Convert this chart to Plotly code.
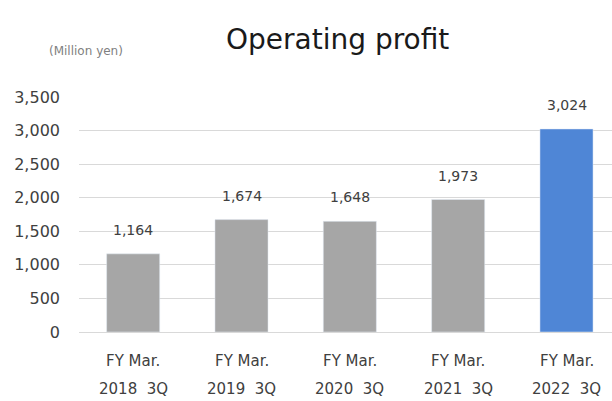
import plotly.graph_objects as go

line1 = ["FY Mar."] * 5
line2 = ["2018  3Q", "2019  3Q", "2020  3Q", "2021  3Q", "2022  3Q"]
values = [1164, 1674, 1648, 1973, 3024]
colors = ["#a6a6a6", "#a6a6a6", "#a6a6a6", "#a6a6a6", "#4f86d6"]
ytick_vals = [0, 500, 1000, 1500, 2000, 2500, 3000, 3500]

font = "DejaVu Sans"
x = list(range(len(values)))

L, R, T, B, W, H = 79, 0, 97, 69, 612, 401
pw, ph = W - L - R, H - T - B

fig = go.Figure()
fig.add_trace(go.Bar(x=x, y=values, marker_color=colors, width=0.49))

for i in x:
    fig.add_annotation(x=i, y=values[i], xref="x", yref="y", yshift=24, text=f"{values[i]:,}",
                       showarrow=False, font=dict(family=font, size=14, color="#404040"))
    fig.add_annotation(x=i, y=0, xref="x", yref="y", yshift=-29, text=line1[i], showarrow=False,
                       font=dict(family=font, size=15, color="#404040"))
    fig.add_annotation(x=i, y=0, xref="x", yref="y", yshift=-57, text=line2[i], showarrow=False,
                       font=dict(family=font, size=15, color="#404040"))

fig.add_annotation(x=(337 - L) / pw, y=1 + (T - 40) / ph, xref="paper", yref="paper",
                   xanchor="center", yanchor="middle",
                   text="Operating profit", showarrow=False,
                   font=dict(family=font, size=28, color="#1a1a1a"))
fig.add_annotation(x=(86 - L) / pw, y=1 + (T - 51) / ph, xref="paper", yref="paper",
                   xanchor="center", yanchor="middle",
                   text="(Million yen)", showarrow=False,
                   font=dict(family=font, size=12, color="#7f7f7f"))

fig.update_layout(
    width=W, height=H,
    margin=dict(l=L, r=R, t=T, b=B),
    paper_bgcolor="white", plot_bgcolor="white",
    showlegend=False,
    xaxis=dict(range=[-0.5, 4.42], showticklabels=False, showgrid=False, zeroline=False,
               showline=True, linecolor="#d9d9d9", linewidth=1),
    yaxis=dict(range=[0, 3500], tickvals=ytick_vals, tickformat=",", showgrid=True,
               gridcolor="#d9d9d9", zeroline=False,
               tickfont=dict(family=font, size=16, color="#404040"), ticks="",
               ticklabelstandoff=18),
)
fig.write_html("out.html")
